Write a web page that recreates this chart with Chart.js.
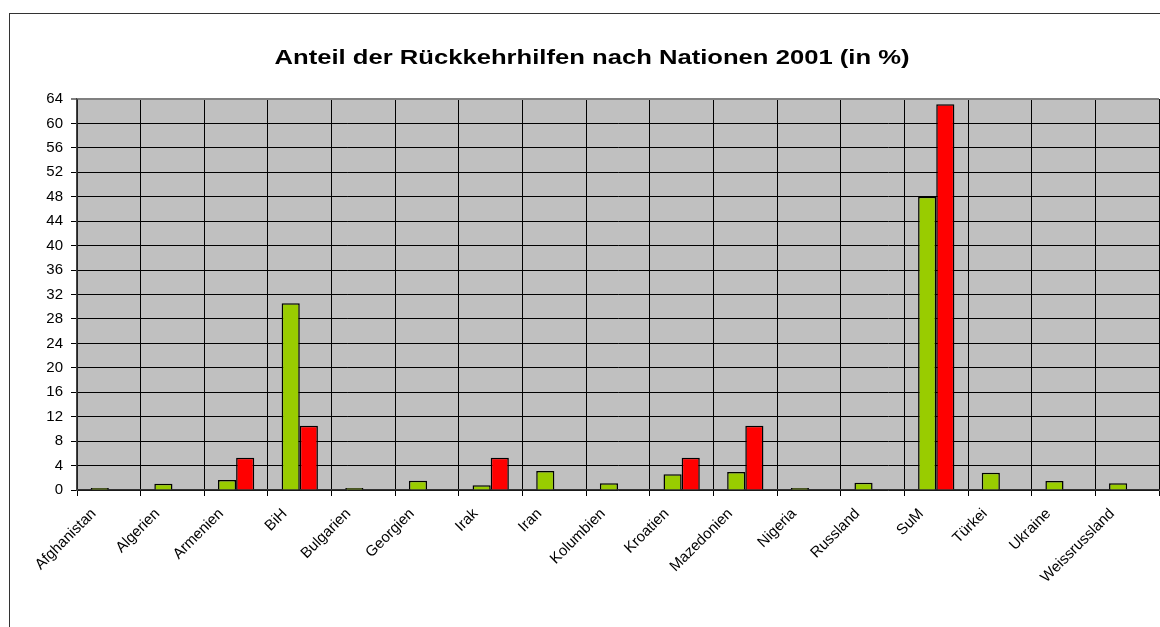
<!DOCTYPE html>
<html>
<head>
<meta charset="utf-8">
<script src="https://cdn.jsdelivr.net/npm/chart.js@4/dist/chart.umd.min.js"></script>
<style>
  html, body { margin: 0; padding: 0; background: #fff; }
  #wrap { position: relative; width: 1160px; height: 627px; overflow: hidden; }
  #frame { position: absolute; left: 9px; top: 13px; width: 1200px; height: 700px; border: 1px solid #333; }
  #chart { position: absolute; left: 0; top: 0; }
</style>
</head>
<body>
<div id="wrap">
  <div id="frame"></div>
  <canvas id="chart" width="1160" height="627"></canvas>
</div>
<script>
// Anteil der Rückkehrhilfen nach Nationen 2001, Werte in %
const nations = ['Afghanistan', 'Algerien', 'Armenien', 'BiH', 'Bulgarien', 'Georgien', 'Irak', 'Iran',
    'Kolumbien', 'Kroatien', 'Mazedonien', 'Nigeria', 'Russland', 'SuM', 'Türkei', 'Ukraine', 'Weissrussland'];
const greenValues = [0.1, 1.04, 1.64, 30.58, 0.27, 1.53, 0.77, 3.12, 1.1, 2.57, 2.95, 0.27, 1.2, 47.98, 2.84, 1.48, 1.09];
const redValues = [null, null, 5.26, 10.53, null, null, 5.26, null, null, 5.26, 10.53, null, null, 63.16, null, null, null];
const yTicks = [0, 4, 8, 12, 16, 20, 24, 28, 32, 36, 40, 44, 48, 52, 56, 60, 64];
const chartTitle = 'Anteil der Rückkehrhilfen nach Nationen 2001 (in %)';

const font = 'Liberation Sans, Arial, sans-serif';

// title drawn by hand: the original is a bit wider than Arial, so stretch it
const titlePlugin = {
    id: 'wideTitle',
    afterDraw(chart) {
        const ctx = chart.ctx;
        ctx.save();
        ctx.font = 'bold 21px ' + font;
        ctx.fillStyle = '#000';
        ctx.textAlign = 'center';
        ctx.textBaseline = 'alphabetic';
        ctx.translate(592, 64);
        ctx.scale(1.22, 1);
        ctx.fillText(chartTitle, 0, 0);
        ctx.restore();
    }
};

const plotBg = {
    id: 'plotBg',
    beforeDraw(chart) {
        const a = chart.chartArea;
        const ctx = chart.ctx;
        ctx.save();
        ctx.fillStyle = '#C0C0C0';
        ctx.fillRect(a.left, a.top, a.right - a.left, a.bottom - a.top);
        ctx.restore();
    }
};

new Chart(document.getElementById('chart'), {
    type: 'bar',
    data: {
        labels: nations,
        datasets: [
            {
                data: greenValues,
                backgroundColor: '#99CC00',
                borderColor: '#000',
                borderWidth: 1.5,
                minBarLength: 2,
                barPercentage: 1,
                categoryPercentage: 0.57
            },
            {
                data: redValues,
                backgroundColor: '#FF0000',
                borderColor: '#000',
                borderWidth: 1.5,
                barPercentage: 1,
                categoryPercentage: 0.57
            }
        ]
    },
    options: {
        responsive: false,
        animation: false,
        layout: {padding: {left: 0, right: 1, top: 99, bottom: 0}},
        plugins: {
            legend: {display: false},
            tooltip: {enabled: false},
            title: {display: false}
        },
        scales: {
            x: {
                grid: {color: '#000', lineWidth: 1, offset: true, tickLength: 6},
                border: {color: '#333', width: 1.5},
                ticks: {
                    color: '#000',
                    font: {family: font, size: 15},
                    minRotation: 45,
                    maxRotation: 45,
                    autoSkip: false,
                    padding: 9,
                    labelOffset: -15
                },
                afterFit: scale => { scale.height = 137; }
            },
            y: {
                min: 0,
                max: 64,
                afterBuildTicks: scale => { scale.ticks = yTicks.map(v => ({value: v})); },
                grid: {
                    color: c => (c.tick && c.tick.value === 64) ? '#808080' : '#000',
                    lineWidth: c => (c.tick && c.tick.value === 64) ? 2 : 1,
                    tickLength: 6
                },
                border: {color: '#444', width: 1.5},
                ticks: {
                    color: '#000',
                    font: {family: font, size: 15},
                    padding: 8
                },
                afterFit: scale => { scale.width = 77; }
            }
        }
    },
    plugins: [plotBg, titlePlugin]
});
</script>
</body>
</html>
